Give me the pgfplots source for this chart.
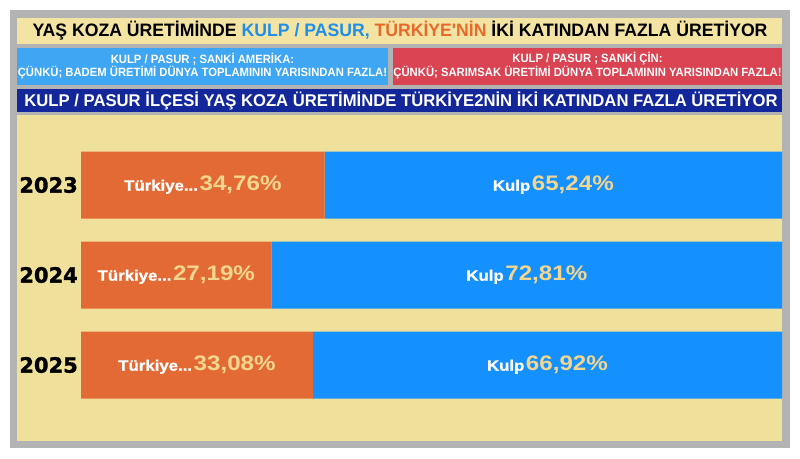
\documentclass[border=0pt]{standalone}
\usepackage{pgfplots}
\pgfplotsset{compat=1.18}
\usepackage{fontspec}
\setmainfont{Liberation Sans}
\newfontfamily\cond[FakeStretch=0.98]{Liberation Sans}
\newfontfamily\condb[FakeStretch=0.94]{Liberation Sans}
\newfontfamily\heavy[BoldFeatures={FakeBold=1.5}]{DejaVu Sans}
\newfontfamily\lblw[FakeStretch=1.12, BoldFeatures={FakeBold=1.2}]{Liberation Sans}
\newfontfamily\lblp[FakeStretch=1.15]{Liberation Sans}
\definecolor{framegrey}{HTML}{B3B3B3}
\definecolor{tanbg}{HTML}{EFE09C}
\definecolor{tantitle}{HTML}{F3E4A3}
\definecolor{boxblue}{HTML}{3EA6F2}
\definecolor{boxred}{HTML}{DA4452}
\definecolor{navy}{HTML}{13279A}
\definecolor{barorange}{HTML}{E46A35}
\definecolor{barblue}{HTML}{1590FF}
\definecolor{ttlblue}{HTML}{1E8FE8}
\definecolor{ttlorange}{HTML}{E86A2A}
\definecolor{pct}{HTML}{F3D68E}
\newcommand{\lab}[2]{\textcolor{white}{\lblw\bfseries\fontsize{15}{17}\selectfont #1}\,\textcolor{pct}{\lblp\bfseries\fontsize{21}{23}\selectfont #2}}
\begin{document}
\begin{tikzpicture}[x=1pt,y=1pt]
% background panels
\fill[white] (0,0) rectangle (800,458);
\fill[framegrey] (10,10) rectangle (790,448);
\fill[tantitle] (17,414) rectangle (782,440);
\fill[boxblue] (17,373) rectangle (388,410);
\fill[boxred] (393,373) rectangle (782,410);
\fill[navy] (17,346) rectangle (782,369);
\fill[tanbg] (17,17) rectangle (782,343);
% texts
\node[inner sep=0pt] at (400,427) {\cond\bfseries\fontsize{18}{20}\selectfont YAŞ KOZA ÜRETİMİNDE \textcolor{ttlblue}{KULP / PASUR,} \textcolor{ttlorange}{TÜRKİYE'NİN} İKİ KATINDAN FAZLA ÜRETİYOR};
\node[inner sep=0pt, text=white] at (202.5,399) {\condb\bfseries\fontsize{12}{14}\selectfont KULP / PASUR ; SANKİ AMERİKA:};
\node[inner sep=0pt, text=white] at (202.5,385) {\condb\bfseries\fontsize{12}{14}\selectfont ÇÜNKÜ; BADEM ÜRETİMİ DÜNYA TOPLAMININ YARISINDAN FAZLA!};
\node[inner sep=0pt, text=white] at (587.5,399) {\condb\bfseries\fontsize{12}{14}\selectfont KULP / PASUR ; SANKİ ÇİN:};
\node[inner sep=0pt, text=white] at (587.5,385) {\condb\bfseries\fontsize{12}{14}\selectfont ÇÜNKÜ; SARIMSAK ÜRETİMİ DÜNYA TOPLAMININ YARISINDAN FAZLA!};
\node[inner sep=0pt, text=white] at (401,357.5) {\cond\bfseries\fontsize{17}{19}\selectfont KULP / PASUR İLÇESİ YAŞ KOZA ÜRETİMİNDE TÜRKİYE2NİN İKİ KATINDAN FAZLA ÜRETİYOR};
\begin{axis}[
  at={(81pt,48pt)}, anchor=south west,
  scale only axis, width=701pt, height=270pt,
  xbar stacked, bar width=67pt,
  xmin=0, xmax=100, ymin=-0.5, ymax=2.5,
  y dir=reverse,
  ytick={0,1,2}, yticklabels={2023,2024,2025},
  xtick=\empty,
  axis line style={draw=none},
  major tick length=0pt,
  yticklabel style={font=\heavy\bfseries\fontsize{21}{23}\selectfont, text=black, inner sep=0pt, xshift=-3pt},
  clip=false,
]
\addplot[fill=barorange, draw=none] coordinates {(34.76,0) (27.19,1) (33.08,2)};
\addplot[fill=barblue, draw=none] coordinates {(65.24,0) (72.81,1) (66.92,2)};
\coordinate (t0) at (axis cs:17.38,0);
\coordinate (t1) at (axis cs:13.595,1);
\coordinate (t2) at (axis cs:16.54,2);
\coordinate (k0) at (axis cs:67.38,0);
\coordinate (k1) at (axis cs:63.595,1);
\coordinate (k2) at (axis cs:66.54,2);
\end{axis}
\node at (t0) {\lab{Türkiye...}{34,76\%}};
\node at (t1) {\lab{Türkiye...}{27,19\%}};
\node at (t2) {\lab{Türkiye...}{33,08\%}};
\node at (k0) {\lab{Kulp}{65,24\%}};
\node at (k1) {\lab{Kulp}{72,81\%}};
\node at (k2) {\lab{Kulp}{66,92\%}};
\end{tikzpicture}
\end{document}
